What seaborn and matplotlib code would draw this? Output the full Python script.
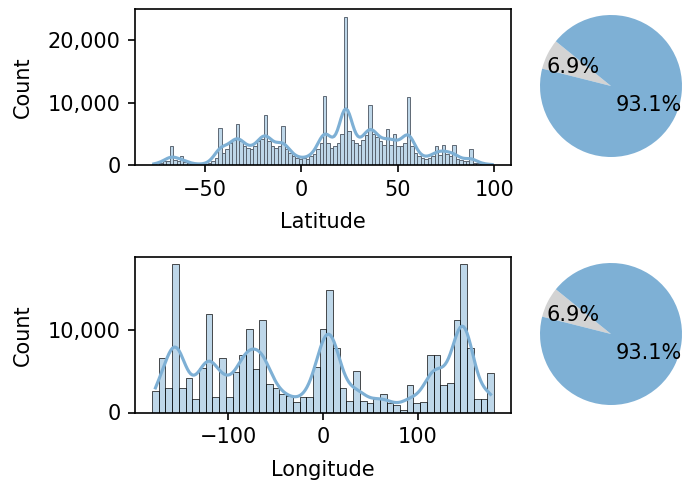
import numpy as np
import pandas as pd
import matplotlib
matplotlib.use("Agg")
import matplotlib.pyplot as plt
import seaborn as sns
from matplotlib.ticker import StrMethodFormatter

# ---------------- data ----------------
lat_range = (-77.3, 99.8)
lat_counts = [
    100, 300, 400, 600, 700, 3000, 800, 600, 1500, 500,
    300, 200, 150, 100, 100, 150, 300, 700, 1200, 6000,
    2000, 2500, 3500, 4000, 6500, 3800, 3000, 2800, 2500, 3000,
    3800, 4200, 8000, 3800, 3000, 2800, 3000, 6300, 2600, 2000,
    1500, 1200, 1000, 1200, 1000, 1500, 1800, 2500, 3500, 11000,
    3500, 2800, 3000, 3500, 5000, 23700, 5500, 4000, 3500, 3200,
    4000, 4800, 9600, 5000, 4500, 3800, 3200, 5800, 3200, 5000,
    3000, 3000, 3500, 10900, 3000, 2000, 1500, 1200, 1000, 1200,
    1500, 3000, 1600, 3200, 1800, 1500, 3200, 1000, 800, 700,
    600, 2500, 400, 300, 200, 150, 100, 80,
]

lon_range = (-180, 180)
lon_counts = [
    2600, 6600, 3000, 18000, 3000, 4200, 1700, 5400, 12000, 1900,
    6600, 1900, 4900, 7000, 10100, 5300, 11300, 3500, 3000, 2300,
    2000, 1300, 1900, 1900, 5500, 10100, 14900, 7800, 3000, 1400,
    5000, 1400, 1200, 1700, 2300, 1100, 900, 300, 3400, 1100,
    1300, 7000, 7000, 3400, 3600, 11300, 18000, 7800, 1600, 1600,
    4800,
]

pie_labels = ["Missing", "Present"]
pie_values = [6.9, 93.1]

# ---------------- style ----------------
BLUE = "#7eb0d5"
GRAY = "lightgray"
plt.rcParams["font.family"] = ["DejaVu Sans"]
plt.rcParams["font.size"] = 10

fig = plt.figure(figsize=(687 / 150, 481 / 150), dpi=150)
W, H = 687.0, 481.0


def box(left, top, right, bottom):
    return [left / W, 1 - bottom / H, (right - left) / W, (bottom - top) / H]


ax_lat = fig.add_axes(box(135, 9.5, 511, 165))
ax_lon = fig.add_axes(box(135, 257, 511, 412.5))
ax_p1 = fig.add_axes(box(611 - 88.75, 86 - 88.75, 611 + 88.75, 86 + 88.75))
ax_p2 = fig.add_axes(box(611 - 88.75, 334 - 88.75, 611 + 88.75, 334 + 88.75))


def hist(ax, rng, counts, label, **bar_kws):
    counts = np.asarray(counts, float)
    n = len(counts)
    width = (rng[1] - rng[0]) / n
    centers = rng[0] + width * (np.arange(n) + 0.5)
    df = pd.DataFrame({label: centers, "n": counts})
    total = counts.sum()
    neff = total ** 2 / (counts ** 2).sum()
    bw_adj = (total / neff) ** (-0.2)
    sns.histplot(data=df, x=label, weights="n", binwidth=width,
                 binrange=rng, kde=True,
                 color=BLUE, ax=ax,
                 kde_kws=dict(bw_adjust=bw_adj),
                 line_kws=dict(linewidth=1.5), **bar_kws)
    ax.set_xlabel(label, labelpad=6)
    ax.set_ylabel("Count", labelpad=7)
    ax.yaxis.set_major_formatter(StrMethodFormatter("{x:,.0f}"))


hist(ax_lat, lat_range, lat_counts, "Latitude",
     linewidth=0.45, edgecolor="#5a6470")
hist(ax_lon, lon_range, lon_counts, "Longitude")
ax_lat.set_xticks([-50, 0, 50, 100])
ax_lon.set_xticks([-100, 0, 100])

for axp in (ax_p1, ax_p2):
    axp.pie(pie_values, colors=[GRAY, BLUE], autopct="%1.1f%%",
            startangle=141)

fig.savefig("out.png", dpi=150)
